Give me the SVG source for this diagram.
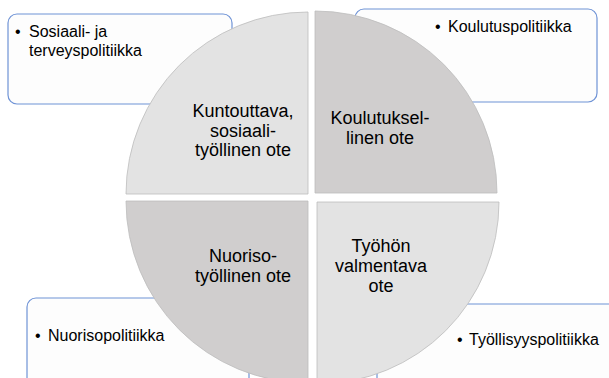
<svg xmlns="http://www.w3.org/2000/svg" width="609" height="378" viewBox="0 0 609 378">
<style>
.box{fill:#fdfdfd;stroke:#6f93d6;stroke-width:1.2}
.q{stroke:#bcbcbc;stroke-width:0.8}
.light{fill:#e3e3e3}
.dark{fill:#d0cece}
.t{font-family:"Liberation Sans",Arial,sans-serif;fill:#000}
.s{font-size:16px}
.b{font-size:18px;text-anchor:middle}
</style>
<rect width="609" height="378" fill="#ffffff"/>
<g id="box-sosiaali">
<rect class="box" x="8" y="14" width="224" height="90" rx="9"/>
<text class="t s" x="15" y="37">•</text>
<text class="t s" x="29" y="37">Sosiaali- ja</text>
<text class="t s" x="29" y="56">terveyspolitiikka</text>
</g>
<g id="box-koulutus">
<rect class="box" x="355" y="9" width="242" height="93" rx="9"/>
<text class="t s" x="435" y="32">•</text>
<text class="t s" x="448" y="32">Koulutuspolitiikka</text>
</g>
<g id="box-nuoriso">
<rect class="box" x="27" y="298" width="222" height="100" rx="9"/>
<text class="t s" x="35" y="341">•</text>
<text class="t s" x="48" y="341">Nuorisopolitiikka</text>
</g>
<g id="box-tyollisyys">
<rect class="box" x="377" y="304" width="260" height="100" rx="9"/>
<text class="t s" x="457" y="345">•</text>
<text class="t s" x="469" y="345">Työllisyyspolitiikka</text>
</g>
<g id="q-kuntouttava">
<path class="q light" d="M308,194 L126,194 A182,182 0 0 1 308,12 Z"/>
<text class="t b" x="243" y="117">Kuntouttava,</text>
<text class="t b" x="243" y="137">sosiaali-</text>
<text class="t b" x="243" y="156">työllinen ote</text>
</g>
<g id="q-koulutuksellinen">
<path class="q dark" d="M315,193 L315,11 A182,182 0 0 1 497,193 Z"/>
<text class="t b" x="380" y="124">Koulutuksel-</text>
<text class="t b" x="380" y="144">linen ote</text>
</g>
<g id="q-nuorisotyollinen">
<path class="q dark" d="M308,201 L308,383 A182,182 0 0 1 126,201 Z"/>
<text class="t b" x="243" y="262">Nuoriso-</text>
<text class="t b" x="243" y="282">työllinen ote</text>
</g>
<g id="q-tyohon">
<path class="q light" d="M317,202 L499,202 A182,182 0 0 1 317,384 Z"/>
<text class="t b" x="381" y="252">Työhön</text>
<text class="t b" x="381" y="272">valmentava</text>
<text class="t b" x="381" y="292">ote</text>
</g>
</svg>
